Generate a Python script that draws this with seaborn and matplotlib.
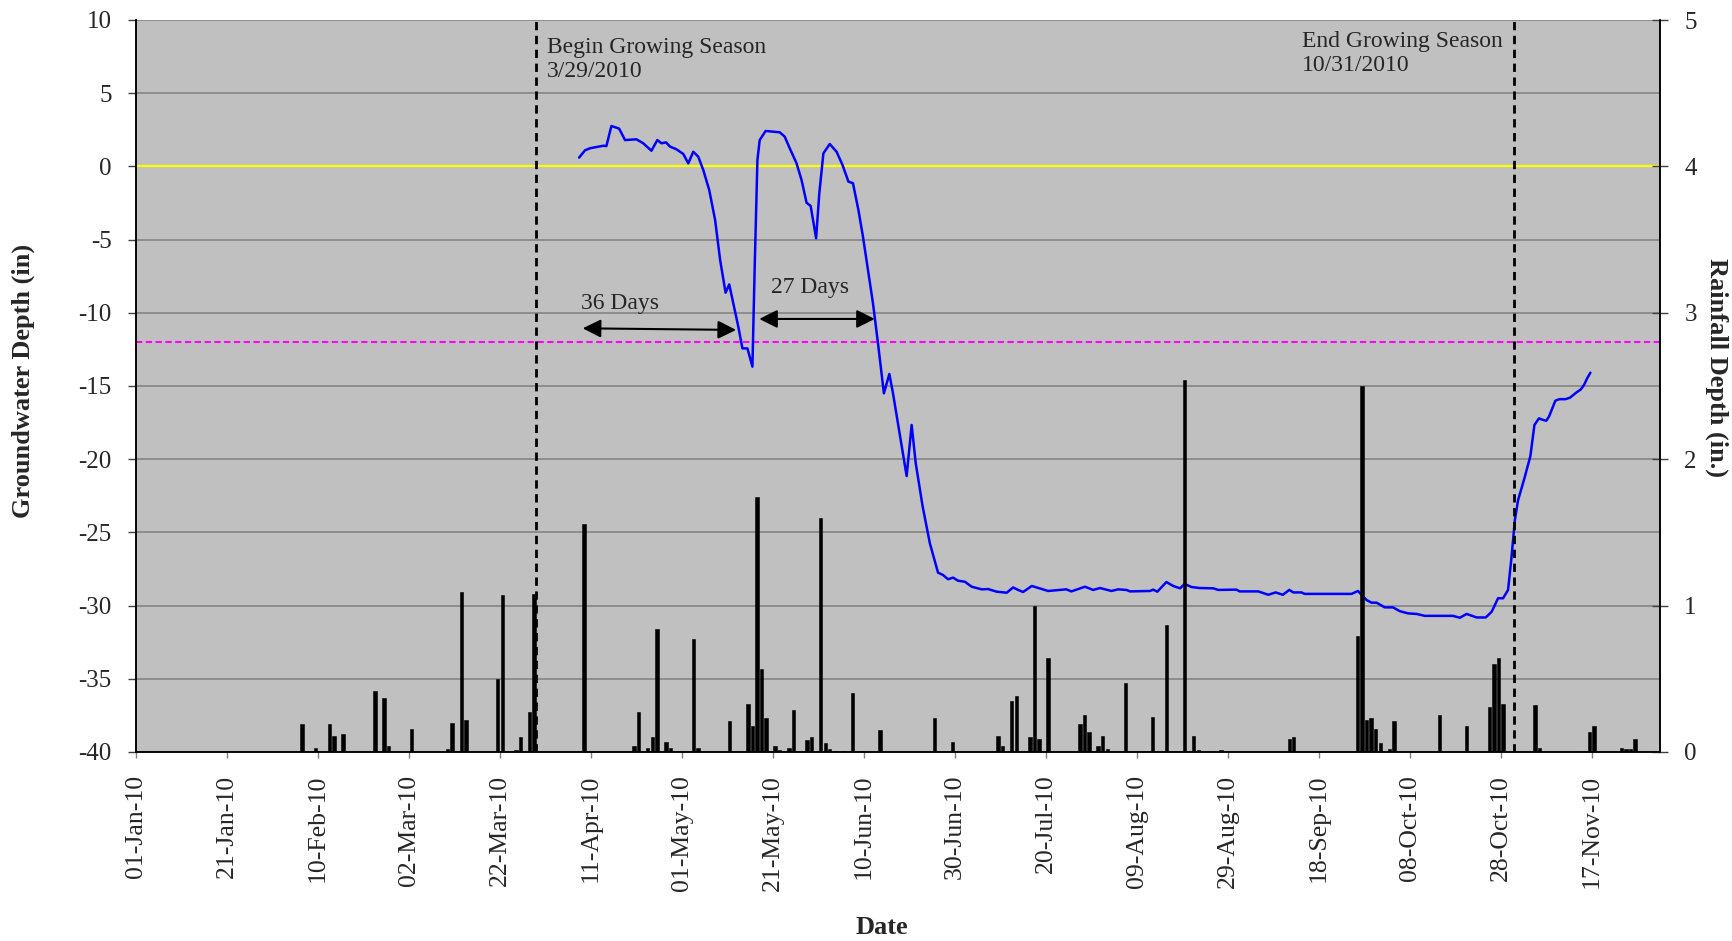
import pandas as pd
import matplotlib
matplotlib.use('Agg')
import matplotlib.pyplot as plt
import matplotlib.dates as mdates
import seaborn as sns

# groundwater depth (in); x = days after 01-Jan-2010
gw_day = [97.4, 98.7, 99.8, 102.7, 103.4, 104.5, 106.2, 107.5, 110.0, 111.5,
          113.3, 114.6, 115.5, 116.5, 117.4, 118.8, 120.3, 121.4, 122.5, 123.6,
          124.7, 126.0, 127.3, 128.4, 129.6, 130.4, 131.3, 132.4, 133.3, 134.4,
          135.5, 136.0, 136.6, 137.1, 138.4, 141.5, 142.6, 143.7, 145.2, 146.3,
          147.4, 148.3, 149.5, 150.2, 151.1, 152.5, 154.0, 155.3, 156.6, 157.6,
          158.8, 159.8, 160.9, 162.0, 163.1, 164.4, 165.6, 166.4, 169.4, 170.5,
          171.4, 172.9, 174.5, 176.3, 177.4, 178.5, 179.6, 180.7, 182.2, 183.7,
          185.9, 187.3, 189.2, 191.4, 192.8, 193.9, 195.0, 196.9, 200.5, 204.5,
          205.6, 208.6, 210.4, 211.9, 214.4, 215.9, 217.7, 218.5, 222.9, 223.6,
          224.5, 226.5, 228.0, 229.5, 230.5, 232.0, 233.8, 236.8, 237.9, 241.9,
          242.6, 246.7, 248.9, 250.5, 252.1, 253.5, 254.4, 256.2, 256.9, 267.2,
          268.6, 270.5, 271.6, 272.7, 274.5, 276.3, 277.8, 279.6, 281.5, 283.3,
          289.5, 291.0, 292.5, 294.7, 296.7, 298.0, 299.4, 300.5, 301.6, 302.3,
          303.1, 303.8, 305.2, 306.5, 307.4, 308.4, 309.3, 310.0, 310.6, 312.0,
          312.9, 314.2, 315.2, 316.6, 317.6, 318.3, 319.0, 319.7]
gw_depth = [0.6, 1.1, 1.24, 1.41, 1.39, 2.76, 2.58, 1.80, 1.85, 1.58,
            1.07, 1.80, 1.58, 1.64, 1.35, 1.17, 0.85, 0.21, 1.0, 0.66,
            -0.25, -1.61, -3.66, -6.39, -8.63, -8.06, -9.35, -10.95, -12.43, -12.43,
            -13.68, -6.85, 0.44, 1.80, 2.42, 2.33, 2.03, 1.24, 0.21, -0.93,
            -2.48, -2.70, -4.91, -1.84, 0.89, 1.53, 1.0, 0.10, -1.04, -1.15,
            -2.98, -4.80, -7.08, -9.35, -12.08, -15.5, -14.18, -15.5, -21.15, -17.66,
            -20.28, -23.2, -25.74, -27.75, -27.91, -28.2, -28.09, -28.30, -28.37, -28.71,
            -28.89, -28.87, -29.05, -29.12, -28.76, -28.93, -29.07, -28.66, -29.0, -28.89,
            -29.03, -28.71, -28.93, -28.8, -29.0, -28.89, -28.93, -29.03, -29.0, -28.91,
            -29.05, -28.39, -28.66, -28.82, -28.52, -28.73, -28.8, -28.82, -28.93, -28.91,
            -29.03, -29.03, -29.26, -29.1, -29.26, -28.93, -29.1, -29.1, -29.2, -29.2,
            -29.0, -29.62, -29.8, -29.8, -30.12, -30.12, -30.38, -30.53, -30.57, -30.7,
            -30.7, -30.83, -30.57, -30.81, -30.81, -30.42, -29.5, -29.5, -28.93, -26.88,
            -24.15, -22.8, -21.3, -19.8, -17.66, -17.21, -17.32, -17.37, -17.09, -16.0,
            -15.9, -15.9, -15.8, -15.45, -15.23, -14.93, -14.47, -14.09]

# daily rainfall (in.)
rain_dates = ['2010-02-06', '2010-02-09', '2010-02-12', '2010-02-13', '2010-02-15',
              '2010-02-22', '2010-02-24', '2010-02-25', '2010-03-02', '2010-03-10',
              '2010-03-11', '2010-03-12', '2010-03-13', '2010-03-14', '2010-03-21',
              '2010-03-22', '2010-03-25', '2010-03-26', '2010-03-28', '2010-03-29',
              '2010-04-08', '2010-04-09', '2010-04-20', '2010-04-21', '2010-04-23',
              '2010-04-24', '2010-04-25', '2010-04-27', '2010-04-28', '2010-05-03',
              '2010-05-04', '2010-05-11', '2010-05-15', '2010-05-16', '2010-05-17',
              '2010-05-18', '2010-05-19', '2010-05-21', '2010-05-22', '2010-05-24',
              '2010-05-25', '2010-05-28', '2010-05-29', '2010-05-31', '2010-06-01',
              '2010-06-02', '2010-06-03', '2010-06-05', '2010-06-07', '2010-06-09',
              '2010-06-13', '2010-06-25', '2010-06-29', '2010-07-09', '2010-07-10',
              '2010-07-12', '2010-07-13', '2010-07-16', '2010-07-17', '2010-07-18',
              '2010-07-20', '2010-07-27', '2010-07-28', '2010-07-29', '2010-07-31',
              '2010-08-01', '2010-08-02', '2010-08-06', '2010-08-12', '2010-08-15',
              '2010-08-19', '2010-08-21', '2010-08-22', '2010-08-27', '2010-09-11',
              '2010-09-12', '2010-09-26', '2010-09-27', '2010-09-28', '2010-09-29',
              '2010-09-30', '2010-10-01', '2010-10-03', '2010-10-04', '2010-10-14',
              '2010-10-20', '2010-10-25', '2010-10-26', '2010-10-27', '2010-10-28',
              '2010-11-04', '2010-11-05', '2010-11-15', '2010-11-16', '2010-11-17',
              '2010-11-23', '2010-11-24', '2010-11-25', '2010-11-26']
rain_in = [0.19, 0.03, 0.19, 0.11, 0.12,
           0.42, 0.37, 0.04, 0.16, 0.02,
           0.20, 0.01, 1.09, 0.22, 0.50,
           1.07, 0.015, 0.10, 0.27, 1.08,
           0.01, 1.56, 0.04, 0.27, 0.03,
           0.10, 0.84, 0.07, 0.03, 0.77,
           0.03, 0.21, 0.33, 0.18, 1.74,
           0.57, 0.23, 0.04, 0.015, 0.03,
           0.29, 0.08, 0.10, 1.60, 0.06,
           0.02, 0.01, 0.01, 0.40, 0.01,
           0.15, 0.23, 0.07, 0.11, 0.04,
           0.35, 0.38, 0.10, 1.00, 0.09,
           0.64, 0.19, 0.25, 0.14, 0.04,
           0.11, 0.02, 0.47, 0.24, 0.87,
           2.54, 0.11, 0.015, 0.015, 0.09,
           0.10, 0.79, 2.50, 0.22, 0.23,
           0.155, 0.06, 0.02, 0.21, 0.25,
           0.18, 0.31, 0.60, 0.64, 0.33,
           0.32, 0.03, 0.01, 0.14, 0.18,
           0.03, 0.02, 0.02, 0.09]

tick_dates = ['2010-01-01', '2010-01-21', '2010-02-10', '2010-03-02', '2010-03-22',
              '2010-04-11', '2010-05-01', '2010-05-21', '2010-06-10', '2010-06-30',
              '2010-07-20', '2010-08-09', '2010-08-29', '2010-09-18', '2010-10-08',
              '2010-10-28', '2010-11-17']

season_lines = ['2010-03-30', '2010-10-31']
season_labels = ['Begin Growing Season\n3/29/2010', 'End Growing Season\n10/31/2010']
ponding_level = 0
threshold_level = -12

# "36 Days" / "27 Days" arrows (days after 01-Jan, depth)
arrow_days = [(98.2, 131.9), (137.0, 162.4)]
arrow_depth = [(-11.06, -11.17), (-10.42, -10.42)]
arrow_labels = ['36 Days', '27 Days']

sns.set_style('ticks')
plt.rcParams['font.family'] = ['Liberation Serif', 'DejaVu Serif']
plt.rcParams['axes.unicode_minus'] = False

start = pd.Timestamp('2010-01-01')
gw = pd.DataFrame({'date': start + pd.to_timedelta(gw_day, unit='D'), 'depth': gw_depth})

fig = plt.figure(figsize=(17.32, 9.41), dpi=100)
ax = fig.add_axes([136 / 1732, 1 - 752 / 941, 1524 / 1732, 732 / 941])
ax.set_facecolor('#C0C0C0')

ax.axhline(ponding_level, color='#FFFF00', lw=1.6, zorder=1.5)
ax.axhline(threshold_level, color='#FF00FF', lw=1.5, dashes=(3, 1.7), zorder=1.5)
sns.lineplot(data=gw, x='date', y='depth', color='#0000FF', lw=1.8, ax=ax, zorder=3)

for (d0, d1), (y0, y1) in zip(arrow_days, arrow_depth):
    x0 = mdates.date2num(start + pd.Timedelta(days=d0))
    x1 = mdates.date2num(start + pd.Timedelta(days=d1))
    ax.annotate('', xy=(x1, y1), xytext=(x0, y0),
                arrowprops=dict(arrowstyle='<|-|>,head_length=1.1,head_width=0.55',
                                mutation_scale=10, color='black', lw=1.5,
                                shrinkA=0, shrinkB=0))
ax.text(0.2918, 0.6048, arrow_labels[0], transform=ax.transAxes, fontsize=17, va='baseline')
ax.text(0.4164, 0.6266, arrow_labels[1], transform=ax.transAxes, fontsize=17, va='baseline')

ax.set_ylim(-40, 10)
ax.set_yticks(range(-40, 11, 5))
ax.set_xlim(start, pd.Timestamp('2010-12-02'))
ax.set_xticks(pd.to_datetime(tick_dates))
ax.xaxis.set_major_formatter(mdates.DateFormatter('%d-%b-%y'))
ax.yaxis.grid(True, color='#808080', lw=1.1)
ax.xaxis.grid(False)
ax.set_axisbelow(True)
ax.set_xlabel('')
ax.set_ylabel('')
ax.tick_params(axis='x', labelsize=18.5, labelrotation=90, length=4.3, width=1,
               color='#808080', pad=12)
ax.tick_params(axis='y', labelsize=18, length=6, width=1, color='#404040', pad=11.5)

# rainfall on the secondary axis
ax2 = ax.twinx()
rain_x = pd.to_datetime(rain_dates) + pd.Timedelta(hours=12)
ax2.bar(rain_x, rain_in, width=0.75, color='black', edgecolor='black', linewidth=0.4,
        zorder=2)
for d in season_lines:
    ax2.axvline(pd.Timestamp(d), color='black', lw=2, dashes=(3, 2), zorder=3)
ax2.text(0.2699, 0.9765, season_labels[0], transform=ax2.transAxes, fontsize=17,
         ha='left', va='top')
ax2.text(0.7653, 0.9847, season_labels[1], transform=ax2.transAxes, fontsize=17,
         ha='left', va='top')
ax2.set_ylim(0, 5)
ax2.set_yticks(range(0, 6))
ax2.tick_params(axis='y', labelsize=18, direction='inout', length=12, width=1,
                color='#404040', pad=11.5)
ax2.grid(False)

for a in (ax, ax2):
    a.spines['top'].set_visible(False)
    for s in ('left', 'right', 'bottom'):
        a.spines[s].set_color('black')
        a.spines[s].set_linewidth(1.1)

fig.text(23 / 1732, 1 - 381 / 941, 'Groundwater Depth (in)', rotation=90, fontsize=19,
         fontweight='bold', ha='center', va='center')
fig.text(1717 / 1732, 1 - 368 / 941, 'Rainfall Depth (in.)', rotation=270, fontsize=19,
         fontweight='bold', ha='center', va='center')
fig.text(882 / 1732, 1 - 927 / 941, 'Date', fontsize=19, fontweight='bold',
         ha='center', va='center')

fig.savefig('out.png', dpi=100)
